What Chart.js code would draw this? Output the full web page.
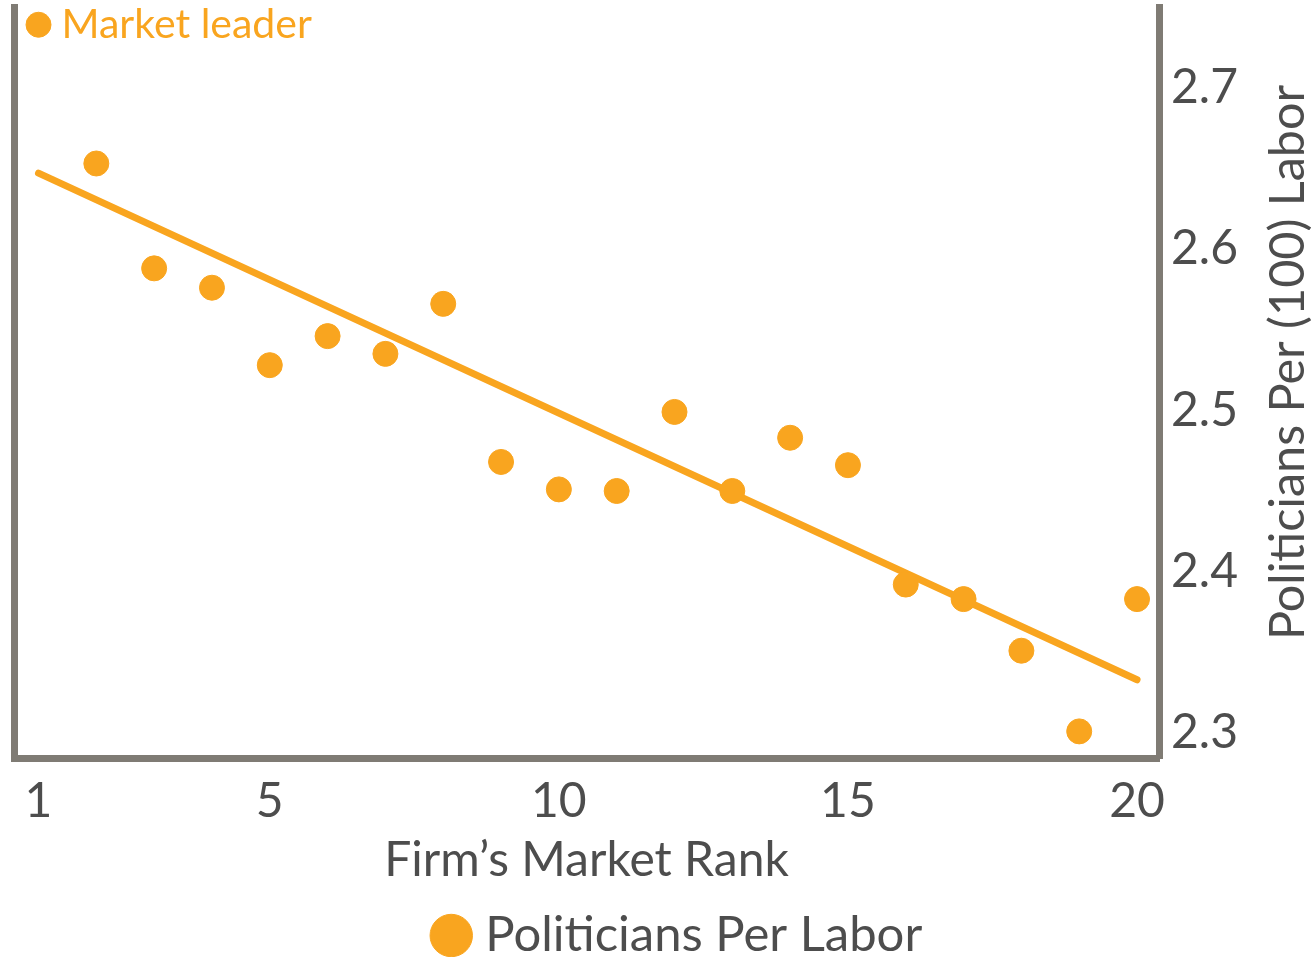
<!DOCTYPE html>
<html>
<head>
<meta charset="utf-8">
<script src="https://cdn.jsdelivr.net/npm/chart.js@4.4.1/dist/chart.umd.min.js"></script>
<style>
  html, body { margin: 0; padding: 0; background: #fff; }
  #wrap { width: 1316px; height: 957px; }
</style>
</head>
<body>
<div id="wrap"><canvas id="rankChart"></canvas></div>
<script>
const ranks = [2, 3, 4, 5, 6, 7, 8, 9, 10, 11, 12, 13, 14, 15, 16, 17, 18, 19, 20];
const politiciansPerLabor = [2.653, 2.588, 2.576, 2.528, 2.546, 2.535, 2.566, 2.468, 2.451, 2.450,
                             2.499, 2.450, 2.483, 2.466, 2.392, 2.383, 2.351, 2.301, 2.383];
const leaderRank = [1];
const leaderValue = [2.739];
const trendRanks = [1, 20];
const trendValues = [2.647, 2.333];
const xTickValues = [1, 5, 10, 15, 20];
const yTickValues = [2.3, 2.4, 2.5, 2.6, 2.7];

const orange = "#F9A51F";
const axisGray = "#7F7B74";
const textGray = "#4D4D4D";
const fontFamily = "Lato, 'Open Sans', sans-serif";

const toPoints = (xs, ys) => xs.map((x, i) => ({ x: x, y: ys[i] }));

// market leader label + right axis title (reads bottom to top)
const extraText = {
    id: "extraText",
    afterLayout(chart) {
        // legend sits a bit right of centre in the original
        chart.legend.left += 17;
        chart.legend.right += 17;
    },
    afterDraw(chart) {
        const ctx = chart.ctx;
        const leader = chart.getDatasetMeta(1).data[0];
        ctx.save();
        ctx.font = "41px " + fontFamily;
        ctx.fillStyle = orange;
        ctx.textBaseline = "middle";
        ctx.textAlign = "left";
        ctx.fillText("Market leader", leader.x + 23, leader.y);

        const area = chart.chartArea;
        ctx.translate(1288, (area.top + area.bottom) / 2 - 20);
        ctx.rotate(-Math.PI / 2);
        ctx.font = "48.5px " + fontFamily;
        ctx.fillStyle = textGray;
        ctx.textAlign = "center";
        ctx.fillText("Politicians Per (100) Labor", 0, 0);
        ctx.restore();
    }
};

new Chart(document.getElementById("rankChart"), {
    type: "scatter",
    data: {
        datasets: [{
            label: "Politicians Per Labor",
            data: toPoints(ranks, politiciansPerLabor),
            backgroundColor: orange,
            borderColor: orange,
            pointRadius: 12.5,
            pointHoverRadius: 12.5,
            order: 1
        }, {
            label: "Market leader",
            data: toPoints(leaderRank, leaderValue),
            backgroundColor: orange,
            borderColor: orange,
            pointRadius: 12.5,
            order: 1
        }, {
            label: "Trend",
            type: "line",
            data: toPoints(trendRanks, trendValues),
            borderColor: orange,
            borderWidth: 7,
            borderCapStyle: "round",
            pointRadius: 0,
            order: 2
        }]
    },
    options: {
        responsive: true,
        maintainAspectRatio: false,
        animation: false,
        layout: {
            autoPadding: false,
            padding: { top: 7, left: 14, right: 0, bottom: -13 }
        },
        plugins: {
            tooltip: { enabled: false },
            legend: {
                position: "bottom",
                labels: {
                    usePointStyle: true,
                    pointStyle: "circle",
                    boxWidth: 19,
                    boxHeight: 30,
                    padding: 2,
                    color: textGray,
                    font: { family: fontFamily, size: 49, lineHeight: 1 },
                    filter: item => item.datasetIndex === 0
                }
            }
        },
        scales: {
            x: {
                type: "linear",
                min: 0.576,
                max: 20.38,
                afterBuildTicks: scale => { scale.ticks = xTickValues.map(v => ({ value: v })); },
                afterFit: scale => {
                    scale.height = 151;
                    scale.paddingLeft = 0;
                    scale.paddingRight = 0;
                },
                grid: { display: false, drawTicks: false },
                border: { display: true, color: axisGray, width: 7 },
                ticks: {
                    color: textGray,
                    padding: 15,
                    font: { family: fontFamily, size: 48 },
                    maxRotation: 0
                },
                title: {
                    display: true,
                    text: "Firm’s Market Rank",
                    color: textGray,
                    font: { family: fontFamily, size: 48 },
                    padding: { top: 0, bottom: 20 }
                }
            },
            y: {
                position: "right",
                min: 2.2845,
                max: 2.75,
                afterBuildTicks: scale => { scale.ticks = yTickValues.map(v => ({ value: v })); },
                afterFit: scale => {
                    scale.width = 157;
                    scale.paddingTop = 0;
                    scale.paddingBottom = 0;
                },
                grid: { display: false, drawTicks: false },
                border: { display: true, color: axisGray, width: 7 },
                ticks: {
                    color: textGray,
                    padding: 12,
                    font: { family: fontFamily, size: 48 },
                    callback: v => v.toFixed(1)
                }
            },
            yLeft: {
                position: "left",
                min: 2.2845,
                max: 2.75,
                afterFit: scale => {
                    scale.width = 0;
                    scale.paddingTop = 0;
                    scale.paddingBottom = 0;
                },
                grid: { display: false, drawTicks: false },
                border: { display: true, color: axisGray, width: 7 },
                ticks: { display: false }
            }
        }
    },
    plugins: [extraText]
});
</script>
</body>
</html>
